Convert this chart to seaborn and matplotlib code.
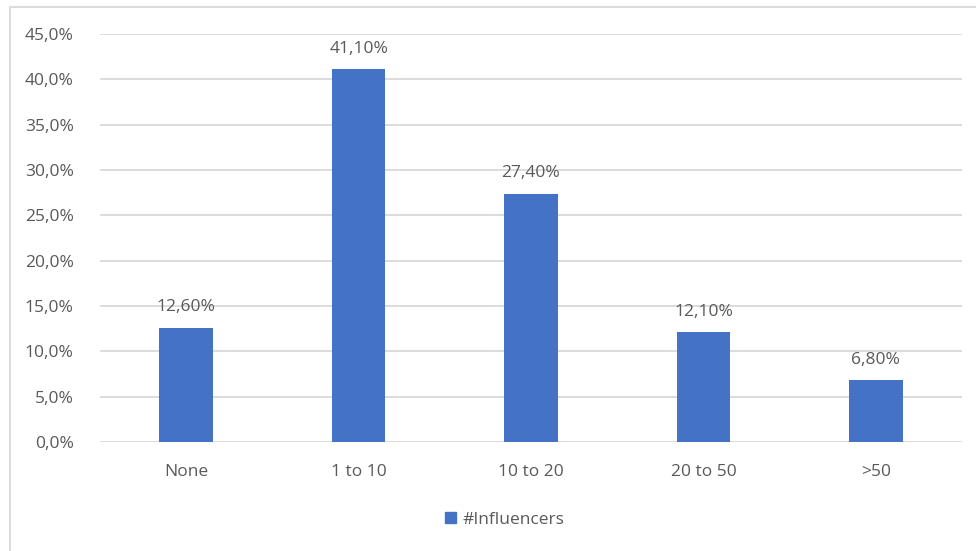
import matplotlib
matplotlib.use("Agg")
import matplotlib.pyplot as plt
import matplotlib.patches as mpatches
import seaborn as sns
import pandas as pd

categories = ["None", "1 to 10", "10 to 20", "20 to 50", ">50"]
values = [12.6, 41.1, 27.4, 12.1, 6.8]
series_name = "#Influencers"
yticks = [0, 5, 10, 15, 20, 25, 30, 35, 40, 45]

sns.set_theme(style="white")
plt.rcParams["font.family"] = ["Open Sans", "DejaVu Sans"]

text_color = "#595959"
bar_color = "#4472C4"
grid_color = "#D9D9D9"
fs = 12.5

df = pd.DataFrame({"category": categories, "value": values})

fig = plt.figure(figsize=(9.76, 5.51), dpi=100)
ax = fig.add_axes([100 / 976, 1 - 442 / 551, 862 / 976, 408 / 551])

sns.barplot(data=df, x="category", y="value", color=bar_color, width=0.31,
            saturation=1, ax=ax, zorder=3, linewidth=0)

ax.set_ylim(0, 45)
ax.set_xlim(-0.5, len(categories) - 0.5)
ax.set_yticks(yticks)
ax.set_yticklabels([f"{t:.1f}".replace(".", ",") + "%" for t in yticks])
ax.yaxis.grid(True, color=grid_color, linewidth=1.3, zorder=0)
ax.xaxis.grid(False)
for s in ax.spines.values():
    s.set_visible(False)
ax.set_xlabel("")
ax.set_ylabel("")
ax.tick_params(axis="both", length=0, labelsize=fs, colors=text_color)
ax.tick_params(axis="y", pad=19)
ax.tick_params(axis="x", pad=16)

labels = [f"{v:.2f}".replace(".", ",") + "%" for v in values]
ax.bar_label(ax.containers[0], labels=labels, padding=9, fontsize=fs,
             color=text_color)

handle = mpatches.Patch(color=bar_color, label=series_name)
fig.legend(handles=[handle], loc="center", bbox_to_anchor=(505 / 976, 1 - 520 / 551),
           frameon=False, fontsize=fs, labelcolor=text_color,
           handlelength=0.6, handleheight=0.6, handletextpad=0.4)

# outer chart border
fig.patches.append(mpatches.Rectangle((10 / 976, -0.05), 1.0, 1 - 7 / 551 + 0.05,
                                      transform=fig.transFigure, fill=False,
                                      edgecolor="#D9D9D9", linewidth=1.3))

fig.savefig("out.png", dpi=100)
